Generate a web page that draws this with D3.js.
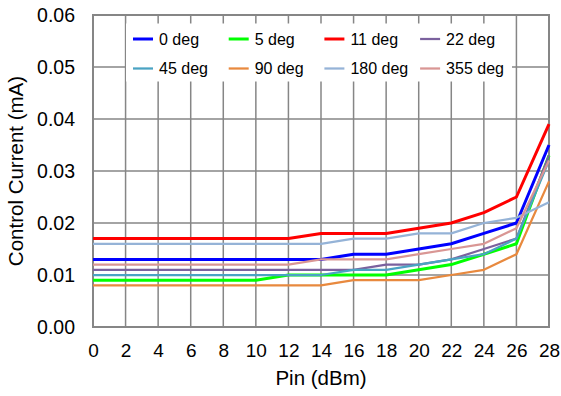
<!DOCTYPE html>
<html>
<head>
<meta charset="utf-8">
<script src="https://cdn.jsdelivr.net/npm/d3@7"></script>
<style>
  body { margin: 0; background: #fff; }
  svg { font-family: "Liberation Sans", Arial, sans-serif; }
  .tick text { fill: #000; }
</style>
</head>
<body>
<div id="chart"></div>
<script>
const pins = [0, 2, 4, 6, 8, 10, 12, 14, 16, 18, 20, 22, 24, 26, 28]
const yTicks = [0, 0.01, 0.02, 0.03, 0.04, 0.05, 0.06]
const labels = ["0 deg", "5 deg", "11 deg", "22 deg", "45 deg", "90 deg", "180 deg", "355 deg"]

const deg0 = [0.013, 0.013, 0.013, 0.013, 0.013, 0.013, 0.013, 0.013, 0.014, 0.014, 0.015, 0.016, 0.018, 0.020, 0.035]
const deg5 = [0.009, 0.009, 0.009, 0.009, 0.009, 0.009, 0.010, 0.010, 0.010, 0.010, 0.011, 0.012, 0.014, 0.016, 0.033]
const deg11 = [0.017, 0.017, 0.017, 0.017, 0.017, 0.017, 0.017, 0.018, 0.018, 0.018, 0.019, 0.020, 0.022, 0.025, 0.039]
const deg22 = [0.011, 0.011, 0.011, 0.011, 0.011, 0.011, 0.011, 0.011, 0.011, 0.012, 0.012, 0.013, 0.015, 0.017, 0.033]
const deg45 = [0.010, 0.010, 0.010, 0.010, 0.010, 0.010, 0.010, 0.010, 0.011, 0.011, 0.012, 0.013, 0.014, 0.017, 0.032]
const deg90 = [0.008, 0.008, 0.008, 0.008, 0.008, 0.008, 0.008, 0.008, 0.009, 0.009, 0.009, 0.010, 0.011, 0.014, 0.028]
const deg180 = [0.016, 0.016, 0.016, 0.016, 0.016, 0.016, 0.016, 0.016, 0.017, 0.017, 0.018, 0.018, 0.020, 0.021, 0.024]
const deg355 = [0.012, 0.012, 0.012, 0.012, 0.012, 0.012, 0.012, 0.013, 0.013, 0.013, 0.014, 0.015, 0.016, 0.019, 0.032]

const seriesValues = [deg0, deg5, deg11, deg22, deg45, deg90, deg180, deg355]
const colors = ["#0000ff", "#00ff00", "#ff0000", "#7b619e", "#4aa3c3", "#e8893e", "#95b3d7", "#d99694"]
const widths = [3, 3, 3, 2.25, 2.25, 2.25, 2.25, 2.25]

const W = 561, H = 396
const margin = {top: 15, right: 12, bottom: 69, left: 93}
const width = W - margin.left - margin.right,
    height = H - margin.top - margin.bottom

const svg = d3.select("#chart")
    .append("svg")
    .attr("width", W)
    .attr("height", H)
    .append("g")
    .attr("transform", "translate(" + margin.left + "," + margin.top + ")")

let x = d3.scaleLinear().domain([0, 28]).range([0, width])
let y = d3.scaleLinear().domain([0, 0.06]).range([height, 0])

// gridlines
svg.append("g")
    .attr("class", "grid")
    .selectAll("line.h")
    .data(yTicks)
    .join("line")
    .attr("x1", 0).attr("x2", width)
    .attr("y1", d => y(d)).attr("y2", d => y(d))
    .attr("stroke", "#868686")
    .attr("stroke-width", 1.5)
svg.append("g")
    .attr("class", "grid")
    .selectAll("line.v")
    .data(pins)
    .join("line")
    .attr("x1", d => x(d)).attr("x2", d => x(d))
    .attr("y1", 0).attr("y2", height)
    .attr("stroke", "#868686")
    .attr("stroke-width", 1.5)

// legend background hides grid behind it
svg.append("rect")
    .attr("x", 126 - margin.left)
    .attr("y", 23.5 - margin.top)
    .attr("width", 386)
    .attr("height", 58)
    .attr("fill", "#fff")

// plot border
svg.append("rect")
    .attr("x", 0).attr("y", 0)
    .attr("width", width).attr("height", height)
    .attr("fill", "none")
    .attr("stroke", "#868686")
    .attr("stroke-width", 2)

// axes (labels only)
svg.append("g")
    .attr("transform", "translate(0," + height + ")")
    .attr("class", "tick")
    .call(d3.axisBottom(x)
        .tickValues(pins)
        .tickFormat(d3.format("d"))
        .tickSizeInner(0)
        .tickSizeOuter(0)
        .tickPadding(17)
    )
    .call(g => g.select(".domain").remove())
    .selectAll("text")
    .attr("font-size", 19)
    .attr("font-family", "Liberation Sans, Arial, sans-serif")

svg.append("g")
    .attr("class", "tick")
    .call(d3.axisLeft(y)
        .tickValues(yTicks)
        .tickFormat(d3.format(".2f"))
        .tickSizeInner(0)
        .tickSizeOuter(0)
        .tickPadding(18)
    )
    .call(g => g.select(".domain").remove())
    .selectAll("text")
    .attr("font-size", 19.5)
    .attr("font-family", "Liberation Sans, Arial, sans-serif")

// series lines
const line = d3.line()
    .x((d, i) => x(pins[i]))
    .y(d => y(d))

seriesValues.forEach((vals, i) => {
    svg.append("path")
        .datum(vals)
        .attr("class", "line")
        .attr("fill", "none")
        .attr("stroke", colors[i])
        .attr("stroke-width", widths[i])
        .attr("stroke-linejoin", "round")
        .attr("d", line)
})

// legend
const legend = svg.append("g")
    .attr("transform", "translate(" + (133 - margin.left) + "," + (39 - margin.top) + ")")
labels.forEach((lab, i) => {
    const col = i % 4, row = Math.floor(i / 4)
    const g = legend.append("g")
        .attr("transform", "translate(" + (col * 95.7) + "," + (row * 29.5) + ")")
    g.append("line")
        .attr("x1", 0).attr("x2", 20)
        .attr("y1", 0).attr("y2", 0)
        .attr("stroke", colors[i])
        .attr("stroke-width", widths[i])
    g.append("text")
        .attr("x", 26)
        .attr("y", 0)
        .attr("dy", "0.35em")
        .attr("font-size", 16)
        .text(lab)
})

// axis titles
svg.append("text")
    .attr("x", width / 2)
    .attr("y", height + 58)
    .attr("text-anchor", "middle")
    .attr("font-size", 20.5)
    .text("Pin (dBm)")

svg.append("text")
    .attr("x", -height / 2)
    .attr("y", 0)
    .attr("transform", "translate(-70, 0) rotate(-90)")
    .attr("text-anchor", "middle")
    .attr("font-size", 20.5)
    .text("Control Current (mA)")
</script>
</body>
</html>
